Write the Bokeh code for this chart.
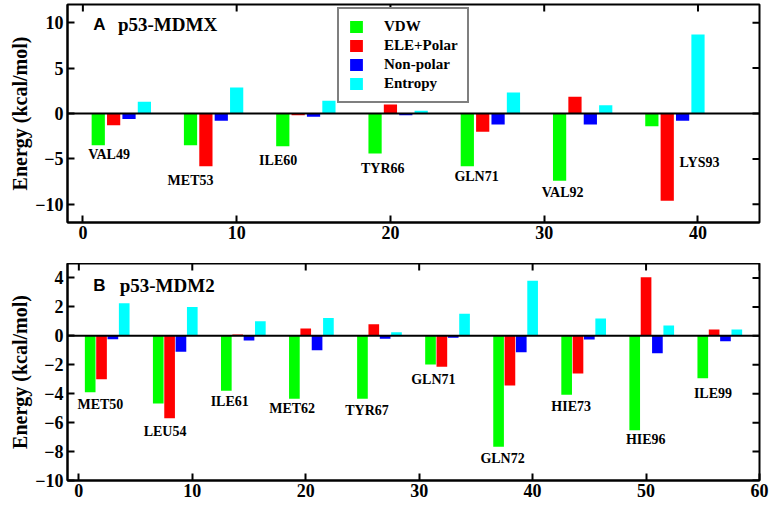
import math
from bokeh.plotting import figure
from bokeh.models import (Range1d, SingleIntervalTicker, Span, Legend, LegendItem)
from bokeh.layouts import column
from bokeh.embed import file_html
from bokeh.resources import INLINE
from bokeh.core.properties import value

# ---------------- data ----------------
series_names = ["VDW", "ELE+Polar", "Non-polar", "Entropy"]
series_colors = ["#00ff00", "#ff0000", "#0000ff", "#00ffff"]

mdmx_title = ["A", "p53-MDMX"]
mdmx_residues = ["VAL49", "MET53", "ILE60", "TYR66", "GLN71", "VAL92", "LYS93"]
mdmx_vdw = [-3.5, -3.5, -3.6, -4.4, -5.8, -7.4, -1.4]
mdmx_ele = [-1.3, -5.8, -0.2, 1.0, -2.0, 1.85, -9.6]
mdmx_nonpolar = [-0.6, -0.8, -0.35, -0.2, -1.2, -1.2, -0.8]
mdmx_entropy = [1.3, 2.85, 1.4, 0.3, 2.3, 0.9, 8.7]
mdmx_label_x = [1.7, 7.0, 12.7, 19.5, 25.6, 31.2, 40.1]
mdmx_label_y = [-4.5, -7.4, -5.2, -6.0, -6.9, -8.7, -5.4]

mdm2_title = ["B", "p53-MDM2"]
mdm2_residues = ["MET50", "LEU54", "ILE61", "MET62", "TYR67", "GLN71",
                 "GLN72", "HIE73", "HIE96", "ILE99"]
mdm2_vdw = [-3.9, -4.67, -3.8, -4.35, -4.35, -1.98, -7.67, -4.07, -6.53, -2.93]
mdm2_ele = [-3.0, -5.7, 0.1, 0.5, 0.8, -2.14, -3.44, -2.6, 4.05, 0.44]
mdm2_nonpolar = [-0.23, -1.1, -0.33, -1.0, -0.2, -0.14, -1.14, -0.26, -1.2, -0.37]
mdm2_entropy = [2.25, 2.0, 1.0, 1.23, 0.25, 1.53, 3.8, 1.2, 0.72, 0.44]
mdm2_label_x = [1.9, 7.6, 13.3, 18.8, 25.4, 31.25, 37.35, 43.4, 49.97, 55.9]
mdm2_label_y = [-4.77, -6.63, -4.53, -5.02, -5.16, -3.02, -8.49, -4.88, -7.16, -4.02]

SERIF = "Liberation Serif"
SANS = "Liberation Sans"


def style_axis(ax):
    ax.axis_line_width = 2
    ax.major_tick_line_width = 2
    ax.major_tick_in = 7
    ax.major_tick_out = 0
    ax.minor_tick_in = 0
    ax.minor_tick_out = 0
    ax.major_label_text_font = SERIF
    ax.major_label_text_font_style = "bold"
    ax.major_label_text_font_size = "18px"
    ax.major_label_text_color = "black"


def ticks(lo, hi, step):
    start = math.ceil(lo / step) * step
    out = []
    v = start
    while v <= hi + 1e-9:
        out.append(v)
        v += step
    return out


def make_panel(residues, vdw, ele, nonpolar, entropy, lab_x, lab_y, title,
               x_range, y_range, x_int, y_int, bar_w, frame_h, b_top, b_bottom,
               title_x, title_y, legend=False):
    p = figure(frame_width=692, frame_height=frame_h, output_backend="svg",
               toolbar_location=None,
               x_range=Range1d(*x_range), y_range=Range1d(*y_range),
               min_border_left=67, min_border_right=11, min_border_top=b_top,
               min_border_bottom=b_bottom)
    p.grid.visible = False
    p.outline_line_color = "black"
    p.outline_line_width = 2
    p.background_fill_color = "white"

    renderers = []
    for j, vals in enumerate([vdw, ele, nonpolar, entropy]):
        xs = [1 + 6 * i + j for i in range(len(residues))]
        r = p.vbar(x=xs, top=vals, bottom=0, width=bar_w,
                   fill_color=series_colors[j], line_color=None)
        renderers.append(r)

    p.add_layout(Span(location=0, dimension="width", line_color="black",
                      line_width=2))

    # mirrored inward ticks on top and right frame edges
    xt = ticks(x_range[0], x_range[1], x_int)
    yt = ticks(y_range[0], y_range[1], y_int)
    p.ray(x=xt, y=[y_range[1]] * len(xt), length=7, length_units="screen",
          angle=-math.pi / 2, line_color="black", line_width=2)
    p.ray(x=[x_range[1]] * len(yt), y=yt, length=7, length_units="screen",
          angle=math.pi, line_color="black", line_width=2)

    p.text(x=lab_x, y=lab_y, text=residues, text_font=value(SERIF),
           text_font_style="bold", text_font_size="14px",
           text_align="center", text_baseline="middle", text_color="black")

    p.text(x=[title_x[0]], y=[title_y], text=[title[0]], text_font=value(SANS),
           text_font_style="bold", text_font_size="17px",
           text_align="left", text_baseline="middle", text_color="black")
    p.text(x=[title_x[1]], y=[title_y], text=[title[1]], text_font=value(SERIF),
           text_font_style="bold", text_font_size="19px",
           text_align="left", text_baseline="middle", text_color="black")

    p.xaxis.ticker = SingleIntervalTicker(interval=x_int, num_minor_ticks=0)
    p.yaxis.ticker = SingleIntervalTicker(interval=y_int, num_minor_ticks=0)
    style_axis(p.xaxis[0])
    style_axis(p.yaxis[0])
    p.xaxis.major_label_standoff = 3
    p.yaxis.major_label_standoff = 4
    p.yaxis.axis_label = "Energy (kcal/mol)"
    p.yaxis.axis_label_text_font = SERIF
    p.yaxis.axis_label_text_font_style = "bold"
    p.yaxis.axis_label_text_font_size = "20px"
    p.yaxis.axis_label_text_color = "black"
    p.yaxis.axis_label_standoff = 1

    if legend:
        items = [LegendItem(label=series_names[j], renderers=[renderers[j]])
                 for j in range(4)]
        leg = Legend(items=items, location=(270, 119))
        leg.label_text_font = SERIF
        leg.label_text_font_style = "bold"
        leg.label_text_font_size = "15px"
        leg.label_text_color = "black"
        leg.glyph_width = 16
        leg.glyph_height = 15
        leg.label_height = 15
        leg.spacing = 2
        leg.padding = 9
        leg.margin = 0
        leg.label_standoff = 20
        leg.border_line_color = "black"
        leg.border_line_width = 2
        leg.background_fill_color = "white"
        leg.background_fill_alpha = 1
        p.add_layout(leg)
    return p


p1 = make_panel(mdmx_residues, mdmx_vdw, mdmx_ele, mdmx_nonpolar, mdmx_entropy,
                mdmx_label_x, mdmx_label_y, mdmx_title,
                (-1, 44), (-12, 12), 10, 5, 0.86, 218, 4, 41,
                (0.67, 2.28), 9.8, legend=True)
p2 = make_panel(mdm2_residues, mdm2_vdw, mdm2_ele, mdm2_nonpolar, mdm2_entropy,
                mdm2_label_x, mdm2_label_y, mdm2_title,
                (-1, 60), (-10, 5), 10, 2, 0.94, 217, 0, 23,
                (1.27, 3.6), 3.49)

layout = column(p1, p2, spacing=0)
open("out.html", "w").write(file_html(layout, INLINE))
